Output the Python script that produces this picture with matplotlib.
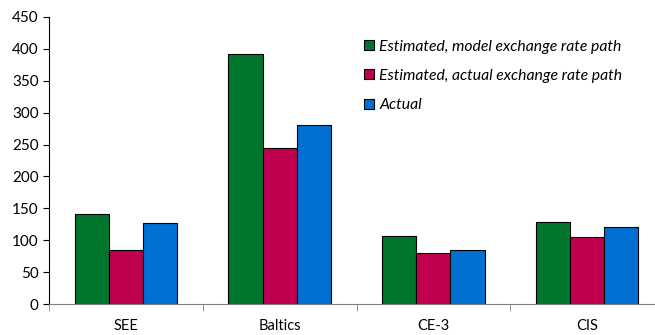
import numpy as np
import matplotlib.pyplot as plt

regions = ['SEE', 'Baltics', 'CE-3', 'CIS']
est_model = [141, 392, 107, 128]
est_actual = [84, 244, 80, 105]
actual = [127, 281, 84, 121]

series = [
    ('Estimated, model exchange rate path', est_model, '#00762D'),
    ('Estimated, actual exchange rate path', est_actual, '#BE004F'),
    ('Actual', actual, '#0070D2'),
]

plt.rcParams['font.family'] = ['Lato', 'DejaVu Sans']

fig = plt.figure(figsize=(6.55, 3.35), dpi=100)
# the category axis runs a little past the right edge of the figure
ax = fig.add_axes([49 / 655, 31 / 335, 615 / 655, 287 / 335])

x = np.arange(len(regions))
width = 0.222
for k, (name, vals, color) in enumerate(series):
    ax.bar(x + (k - 1) * width, vals, width, color=color, edgecolor='black',
           linewidth=0.8, label=name)

ax.set_xlim(-0.5, len(regions) - 0.5)
ax.set_ylim(0, 450)
ax.set_yticks(np.arange(0, 451, 50))
ax.set_xticks(x)
ax.set_xticklabels(regions, fontsize=10.5)
ax.set_xticks(np.arange(-0.5, len(regions), 1), minor=True)
ax.tick_params(axis='x', which='major', length=0, pad=11)
ax.tick_params(axis='x', which='minor', length=5, color='#808080', direction='out')
ax.tick_params(axis='y', labelsize=11, length=4, direction='out')

for side in ('top', 'right'):
    ax.spines[side].set_visible(False)
ax.spines['bottom'].set_color('#808080')
ax.spines['left'].set_color('black')

leg = ax.legend(loc='upper left', bbox_to_anchor=(0.49, 0.97), frameon=False,
                prop={'style': 'italic', 'size': 11.3}, handlelength=0.6,
                handleheight=0.6, handletextpad=0.35, labelspacing=0.97)

fig.savefig('out.png', dpi=100)
